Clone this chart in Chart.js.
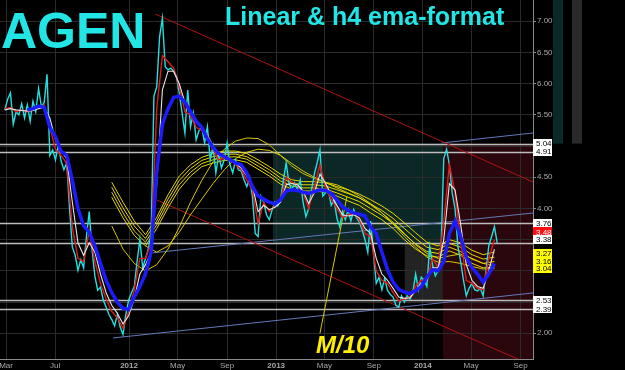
<!DOCTYPE html>
<html><head><meta charset="utf-8">
<script src="https://cdn.jsdelivr.net/npm/chart.js@4/dist/chart.umd.min.js"></script>
<style>html,body{margin:0;padding:0;background:#000;overflow:hidden}#wrap{width:625px;height:370px}</style>
</head><body><div id="wrap"><canvas id="c" width="625" height="370"></canvas></div>
<script>
// x values are days since 2011-01-01
const tickDays = [59,181,365,486,609,731,851,974,1096,1216,1339];
const tickLabels = ['Mar','Jul','2012','May','Sep','2013','May','Sep','2014','May','Sep'];
const yTicks = [2,2.5,3,3.5,4,4.5,5,5.5,6,6.5,7];
const yShown = [2,4,4.5,5.5,6,6.5,7];

const priceStart = 56, priceStep = 7;
const price = [5.58,5.75,5.85,5.35,5.55,5.50,5.68,5.45,5.66,5.40,
5.72,5.55,5.92,5.63,5.70,6.15,4.85,4.94,4.78,5.02,
4.76,4.62,4.73,4.00,3.38,3.25,3.01,3.18,3.05,3.55,
3.95,3.34,2.92,2.69,2.74,2.53,2.42,2.30,2.22,2.12,
2.30,2.10,1.98,2.30,2.53,2.65,2.75,3.15,3.50,3.05,
3.20,3.35,3.61,5.80,5.95,6.75,7.05,6.27,6.22,6.25,
6.20,6.11,5.85,5.53,5.21,5.90,5.31,5.53,5.10,5.25,
5.30,5.05,5.31,4.78,5.00,4.57,4.85,4.65,4.78,5.05,
4.70,4.57,4.78,4.62,4.60,4.46,4.35,4.50,4.19,3.60,
3.55,4.20,4.10,3.90,3.82,3.98,4.10,4.04,4.14,4.46,
4.73,4.40,4.30,4.41,4.30,4.46,4.10,3.87,4.00,4.30,
4.55,4.73,4.94,4.20,4.25,4.30,4.05,4.14,3.85,3.71,
3.95,3.82,3.98,3.80,3.98,3.85,3.78,3.66,3.50,3.30,
3.80,3.30,2.80,2.90,2.70,2.88,2.69,2.62,2.58,2.45,
2.42,2.60,2.50,2.60,2.55,2.65,2.95,2.70,2.90,2.85,
2.75,3.39,3.10,2.92,3.00,3.30,4.80,4.95,4.70,4.25,
4.00,3.40,3.15,2.85,2.60,2.72,2.80,2.70,2.68,2.72,
2.60,3.00,3.40,3.55,3.71,3.45];

const lineStart = 56, lineStep = 14;
const redLine = [5.60,5.62,5.55,5.58,5.55,5.58,5.62,5.66,5.30,4.95,
4.85,4.72,3.70,3.20,3.15,3.65,3.15,2.80,2.55,2.35,
2.25,2.08,2.35,2.70,3.20,3.20,3.45,5.60,6.45,6.35,
6.25,5.95,5.55,5.50,5.30,5.25,5.15,4.95,4.78,4.80,
4.80,4.70,4.62,4.45,4.30,3.75,4.10,3.95,4.05,4.15,
4.50,4.42,4.38,4.25,4.00,4.35,4.70,4.35,4.15,4.00,
3.85,3.90,3.92,3.82,3.60,3.55,3.00,2.85,2.80,2.65,
2.52,2.55,2.58,2.75,2.85,2.85,3.20,3.05,3.80,4.70,
4.25,3.50,2.85,2.80,2.72,2.70,3.20,3.50];
const whiteLine = [5.58,5.60,5.58,5.57,5.56,5.57,5.60,5.62,5.45,5.10,
4.92,4.80,4.10,3.45,3.25,3.45,3.30,2.95,2.65,2.45,
2.32,2.15,2.28,2.55,2.95,3.10,3.30,4.40,5.90,6.20,
6.20,6.00,5.70,5.55,5.38,5.28,5.18,5.00,4.85,4.82,
4.80,4.72,4.65,4.52,4.38,3.95,4.05,3.98,4.02,4.10,
4.38,4.40,4.38,4.28,4.08,4.25,4.55,4.40,4.22,4.05,
3.90,3.88,3.90,3.85,3.68,3.60,3.20,2.95,2.85,2.72,
2.58,2.56,2.57,2.68,2.80,2.85,3.05,3.05,3.50,4.40,
4.30,3.75,3.10,2.85,2.75,2.72,3.00,3.35];
const blueLine = [null,null,null,null,5.58,5.60,5.64,5.62,5.30,5.15,
4.92,4.85,4.45,4.00,3.72,3.62,3.40,3.12,2.85,2.65,
2.50,2.40,2.38,2.58,2.75,2.95,3.30,4.60,5.35,5.60,
5.78,5.80,5.70,5.55,5.40,5.30,5.12,4.98,4.88,4.83,
4.78,4.73,4.70,4.57,4.35,4.20,4.15,4.10,4.07,4.14,
4.28,4.30,4.29,4.26,4.24,4.27,4.30,4.29,4.24,4.14,
4.03,3.97,3.93,3.91,3.88,3.70,3.60,3.30,3.02,2.82,
2.70,2.66,2.64,2.68,2.75,2.90,3.02,3.00,3.15,3.60,
3.80,3.55,3.22,3.05,2.95,2.82,2.95,3.12];

const ribbonStart = 322, ribbonStep = 28;
const ribbon1 = [4.42,4.10,3.80,3.58,3.86,4.22,4.52,4.70,4.82,4.88,4.92,4.92,4.88,4.78,4.67,4.55,4.46,4.43,4.43,4.41,4.35,4.30,4.23,4.14,4.04,3.92,3.77,3.61,3.46,3.40,3.50,3.45,3.33,3.26,3.30];
const ribbon2 = [4.34,4.01,3.72,3.52,3.80,4.15,4.45,4.64,4.77,4.83,4.87,4.87,4.83,4.73,4.62,4.49,4.41,4.38,4.38,4.36,4.30,4.24,4.17,4.07,3.97,3.84,3.68,3.52,3.38,3.34,3.44,3.38,3.26,3.19,3.22];
const ribbon3 = [4.26,3.93,3.64,3.46,3.74,4.08,4.38,4.58,4.72,4.78,4.82,4.83,4.79,4.68,4.57,4.44,4.36,4.33,4.33,4.31,4.25,4.18,4.11,4.00,3.89,3.76,3.59,3.43,3.31,3.28,3.38,3.31,3.19,3.12,3.15];
const ribbon4 = [4.18,3.85,3.57,3.40,3.68,4.01,4.31,4.52,4.67,4.73,4.77,4.78,4.74,4.63,4.52,4.39,4.31,4.28,4.28,4.26,4.20,4.12,4.05,3.93,3.82,3.68,3.50,3.35,3.24,3.22,3.32,3.25,3.12,3.05,3.06];
const yellowA = [3.72,3.35,3.12,3.00,3.10,3.35,3.70,4.10,4.45,4.75,4.95,5.08,5.13,5.12,5.02,4.85,4.68,4.56,4.48,4.42,4.38,4.30,4.20,4.08,3.93,3.75,3.55,3.38,3.22,3.14,3.15,3.12,3.07,3.03,3.04];
const yellowB = [null,null,null,3.40,3.30,3.40,3.62,3.90,4.15,4.40,4.62,4.80,4.90,4.95,4.93,4.85,4.72,4.60,4.50,4.42,4.33,4.25,4.17,4.06,3.93,3.78,3.60,3.42,3.28,3.20,3.24,3.27,3.20,3.12,3.08];

// trend lines: [startDay, startValue, endDay, endValue]
const redTrends = [[430,7.117,1370,4.425],[434,4.136,1370,1.48]];
const blueTrends = [[325,1.925,1370,2.646],[425,3.29,1370,3.928],[1143,5.05,1370,5.21]];
const m10Line = [[840,2.0],[907,4.19]];

const levels = [5.04,4.91,3.76,3.44,2.53,2.39];
// shaded zones: [fromDay, toDay, topValue, bottomValue]
const zones = [[723,1146,5.04,3.44,'#0b2726'],[1051,1146,3.44,2.53,'#232323'],[1146,1370,5.04,1.588,'#2a070c']];
const axisTags = [
  {t:'5.04',v:5.04,bg:'#ffffff',fg:'#000'},{t:'4.91',v:4.91,bg:'#ffffff',fg:'#000'},
  {t:'3.76',v:3.76,bg:'#ffffff',fg:'#000'},
  {t:'3.48',v:3.48,bg:'#ff1010',fg:'#fff',dy:-9},{t:'3.38',v:3.38,bg:'#ffffff',fg:'#000',dy:-8},
  {t:'3.27',v:3.27,bg:'#ffff00',fg:'#000',dy:-1},{t:'3.16',v:3.16,bg:'#ffff00',fg:'#000'},
  {t:'3.04',v:3.04,bg:'#ffff00',fg:'#000'},
  {t:'2.53',v:2.53,bg:'#ffffff',fg:'#000'},{t:'2.39',v:2.39,bg:'#ffffff',fg:'#000'}];

const ser = (s, st, arr) => arr.map((v,i)=>({x:s+i*st,y:v}));
const seg = a => [{x:a[0],y:a[1]},{x:a[2],y:a[3]}];
const L = (data,color,w,extra) => Object.assign({type:'line',data,borderColor:color,borderWidth:w,pointRadius:0,tension:0,fill:false,spanGaps:false},extra||{});

const datasets = [
  L(ser(lineStart,lineStep,blueLine),'#1c1cff',3.5),
  L(ser(lineStart,lineStep,whiteLine),'#e6e6e6',1.1),
  L(ser(lineStart,lineStep,redLine),'#e21a1a',1.4),
  L(ser(priceStart,priceStep,price),'#22e0e0',1.4),
  L(ser(ribbonStart,ribbonStep,ribbon1),'#e8d800',1),
  L(ser(ribbonStart,ribbonStep,ribbon2),'#e8d800',1),
  L(ser(ribbonStart,ribbonStep,ribbon3),'#e8d800',1),
  L(ser(ribbonStart,ribbonStep,ribbon4),'#e8d800',1),
  L(ser(ribbonStart,ribbonStep,yellowA),'#d8c800',1),
  L(ser(ribbonStart,ribbonStep,yellowB),'#d8c800',1),
  L(m10Line.map(p=>({x:p[0],y:p[1]})),'#d8c800',1),
  ...redTrends.map(t=>L(seg(t),'#b01212',1)),
  ...blueTrends.map(t=>L(seg(t),'#6579b8',1))
];

const deco = {
  id:'deco',
  beforeDraw(c){
    const g=c.ctx, xs=c.scales.x, ys=c.scales.y;
    g.save(); g.fillStyle='#000'; g.fillRect(0,0,c.width,c.height);
    zones.forEach(z=>{
      const x0=xs.getPixelForValue(z[0]), x1=Math.min(xs.getPixelForValue(z[1]),c.chartArea.right);
      const y0=ys.getPixelForValue(z[2]), y1=ys.getPixelForValue(z[3]);
      g.fillStyle=z[4]; g.fillRect(x0,y0,x1-x0,y1-y0);
    });
    g.restore();
  },
  beforeDatasetsDraw(c){
    const g=c.ctx, ys=c.scales.y, a=c.chartArea;
    g.save(); g.strokeStyle='#bdbdbd'; g.lineWidth=1.5;
    levels.forEach(v=>{const y=Math.round(ys.getPixelForValue(v))+0.5; g.beginPath(); g.moveTo(a.left,y); g.lineTo(a.right,y); g.stroke();});
    g.restore();
  },
  afterDraw(c){
    const g=c.ctx, ys=c.scales.y, a=c.chartArea;
    g.save();
    const yb=ys.getPixelForValue(5.04);
    g.fillStyle='#0a2a28'; g.fillRect(a.right+20,0,10,yb);
    g.fillStyle='#2a2a2a'; g.fillRect(a.right+39,0,10,yb);
    g.font='8px "Liberation Sans", Arial, sans-serif'; g.textBaseline='middle';
    axisTags.forEach(t=>{
      const y=ys.getPixelForValue(t.v)+(t.dy||0);
      g.fillStyle=t.bg; g.fillRect(a.right,Math.round(y-4.5),19,9);
      g.fillStyle=t.fg; g.fillText(t.t,a.right+3,y+0.5);
    });
    g.fillStyle='#22e6e6';
    g.font='bold 50px "Liberation Sans", Arial, sans-serif'; g.textBaseline='alphabetic';
    g.fillText('AGEN',1,48);
    g.font='bold 25px "Liberation Sans", Arial, sans-serif';
    g.fillText('Linear & h4 ema-format',225,25);
    g.fillStyle='#ffee00';
    g.font='italic bold 24px "Liberation Sans", Arial, sans-serif';
    g.fillText('M/10',316,353);
    g.restore();
  }
};

Chart.defaults.font.family='"Liberation Sans", Arial, sans-serif';
new Chart(document.getElementById('c'),{
  data:{datasets},
  options:{
    responsive:false, animation:false, devicePixelRatio:1,
    layout:{padding:0},
    plugins:{legend:{display:false},tooltip:{enabled:false}},
    scales:{
      x:{type:'linear',min:44,max:1370,
        afterBuildTicks:s=>{s.ticks=tickDays.map(v=>({value:v}));},
        afterFit:s=>{s.height=11;s.paddingLeft=0;s.paddingRight=0;},
        grid:{color:'#2b2b2b',drawTicks:false},
        border:{color:'#8a8a8a'},
        ticks:{color:'#a8a8a8',padding:2,maxRotation:0,autoSkip:false,
          font:ctx=>({size:8,weight:/^\d{4}$/.test(tickLabels[ctx.index]||'')?'bold':'normal'}),
          callback:(v,i)=>tickLabels[i]}
      },
      y:{type:'linear',position:'right',min:1.588,max:7.341,
        afterBuildTicks:s=>{s.ticks=yTicks.map(v=>({value:v}));},
        afterFit:s=>{s.width=92;s.paddingTop=0;s.paddingBottom=0;},
        grid:{color:'#2b2b2b',tickLength:3,tickColor:'#8a8a8a'},
        border:{color:'#8a8a8a'},
        ticks:{color:'#a8a8a8',padding:1,font:{size:8},
          callback:v=>yShown.some(s=>Math.abs(s-v)<1e-6)?v.toFixed(2):''}
      }
    }
  },
  plugins:[deco]
});
</script></body></html>
